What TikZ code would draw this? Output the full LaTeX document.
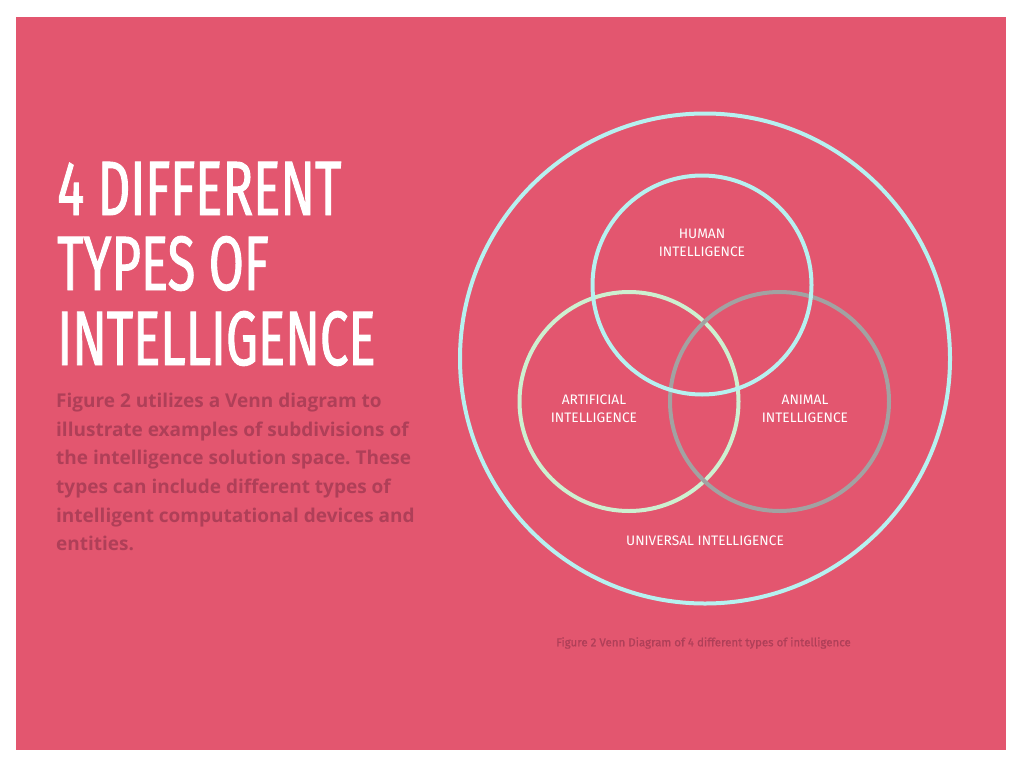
\documentclass[tikz,border=0pt]{standalone}
\usepackage{fontspec}
\setmainfont{Fira Sans}
\newfontfamily\titlefont[FakeStretch=0.66,FakeBold=1.2]{Fira Sans}
\newfontfamily\bodyfont{Open Sans}
\newfontfamily\capfont[FakeBold=0.8]{Fira Sans}
\frenchspacing
\definecolor{bgpink}{HTML}{E3566F}
\definecolor{darkpink}{HTML}{AF3F58}
\definecolor{ringcyan}{HTML}{B6F1F0}
\definecolor{ringgreen}{HTML}{CDF0D0}
\definecolor{ringgray}{HTML}{A2A2A2}
\tikzset{
  ring/.style={circle, draw=#1, line width=4pt, inner sep=0pt},
  title/.style={anchor=base west, inner sep=0pt, text=white, font=\titlefont\fontsize{77}{77}\selectfont},
  lbl/.style={align=center, text=white, inner sep=0pt, font=\fontsize{13.75}{18}\selectfont},
}
\begin{document}
\begin{tikzpicture}[x=1pt,y=-1pt]
\useasboundingbox (0,0) rectangle (1024,768);
\fill[white] (0,0) rectangle (1024,768);
\fill[bgpink] (16,17) rectangle (1006,750);
% title
\node[title] (t1) at (57,215) {4 DIFFERENT};
\node[title] (t2) at (57,290) {TYPES OF};
\node[title] (t3) at (57,365) {INTELLIGENCE};
% body
\node[anchor=north west, inner sep=0pt, align=left, text=darkpink,
  font=\bodyfont\bfseries\fontsize{19}{28.6}\selectfont\frenchspacing] (body) at (56,393)
  {Figure 2 utilizes a Venn diagram to\\
   illustrate examples of subdivisions of\\
   the intelligence solution space. These\\
   types can include different types of\\
   intelligent computational devices and\\
   entities.};
% venn
\node[ring=ringcyan, minimum size=490pt] (outer) at (705,358.5) {};
\node[ring=ringgreen, minimum size=219pt] (art) at (629,401.5) {};
\node[ring=ringgray, minimum size=219pt] (ani) at (779.5,401.5) {};
\node[ring=ringcyan, minimum size=219pt] (hum) at (702,285) {};
\node[lbl] (humt) at (702,243) {HUMAN\\INTELLIGENCE};
\node[lbl] (artt) at (594,409) {ARTIFICIAL\\INTELLIGENCE};
\node[lbl] (anit) at (805,409) {ANIMAL\\INTELLIGENCE};
\node[lbl] (unit) at (705,541) {UNIVERSAL INTELLIGENCE};
\node[text=darkpink, inner sep=0pt, font=\capfont\fontsize{11.5}{13}\selectfont] (cap) at (703.5,643) {Figure 2 Venn Diagram of 4 different types of intelligence};
\end{tikzpicture}
\end{document}
